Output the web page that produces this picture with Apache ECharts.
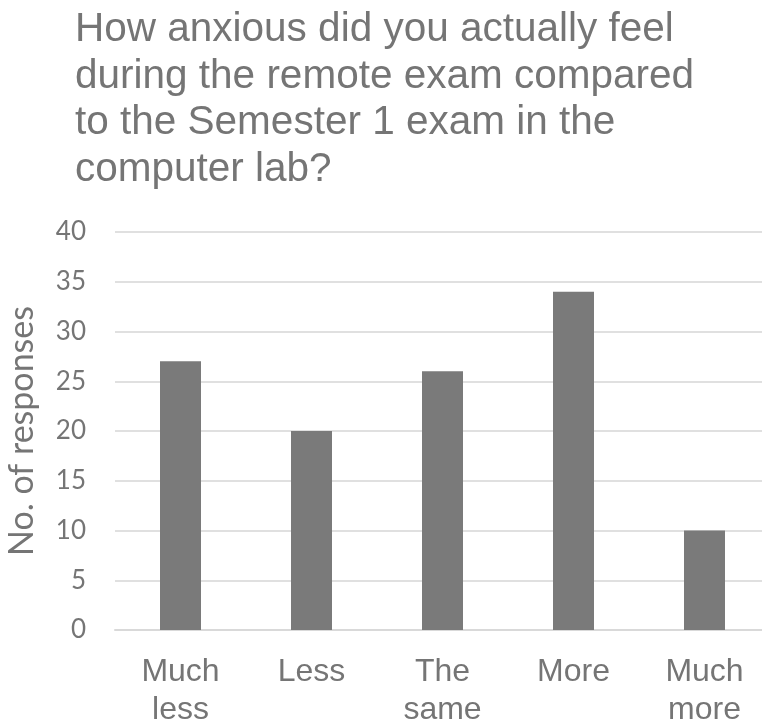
<!DOCTYPE html>
<html>
<head>
<meta charset="utf-8">
<script src="https://cdn.jsdelivr.net/npm/echarts@6/dist/echarts.min.js"></script>
<style>
html,body{margin:0;padding:0;background:#fff;}
#chart{width:762px;height:724px;}
</style>
</head>
<body>
<div id="chart"></div>
<script>
const titleText = "How anxious did you actually feel\nduring the remote exam compared\nto the Semester 1 exam in the\ncomputer lab?";
const categories = ["Much\nless", "Less", "The\nsame", "More", "Much\nmore"];
const responses = [27, 20, 26, 34, 10];
const yTicks = {min: 0, max: 40, interval: 5};
const yAxisName = "No. of responses";

const chart = echarts.init(document.getElementById('chart'), null, {renderer: 'canvas'});
chart.setOption({
  animation: false,
  backgroundColor: '#ffffff',
  title: {
    text: titleText,
    left: 75,
    top: 7,
    padding: 0,
    textStyle: {
      fontFamily: 'Liberation Sans',
      fontSize: 40.5,
      fontWeight: 'normal',
      color: '#757575',
      lineHeight: 46.5
    }
  },
  grid: {left: 115, top: 232, width: 655, height: 398, outerBoundsMode: 'none', containLabel: false},
  xAxis: {
    type: 'category',
    data: categories,
    axisLine: {lineStyle: {color: '#d9d9d9', width: 2}},
    axisTick: {show: false},
    axisLabel: {
      fontFamily: 'Liberation Sans',
      fontSize: 32,
      lineHeight: 38,
      color: '#757575',
      margin: 23,
      interval: 0
    }
  },
  yAxis: {
    type: 'value',
    min: yTicks.min,
    max: yTicks.max,
    interval: yTicks.interval,
    name: yAxisName,
    nameLocation: 'middle',
    nameGap: 76,
    nameTextStyle: {fontFamily: 'Lato', fontSize: 34, color: '#757575'},
    axisLine: {show: false},
    axisTick: {show: false},
    splitLine: {lineStyle: {color: '#e0e0e0', width: 2}},
    axisLabel: {fontFamily: 'Lato', fontSize: 26, color: '#757575', margin: 29}
  },
  series: [{
    type: 'bar',
    data: responses,
    barWidth: 41,
    itemStyle: {color: '#7a7a7a'}
  }]
});
</script>
</body>
</html>
